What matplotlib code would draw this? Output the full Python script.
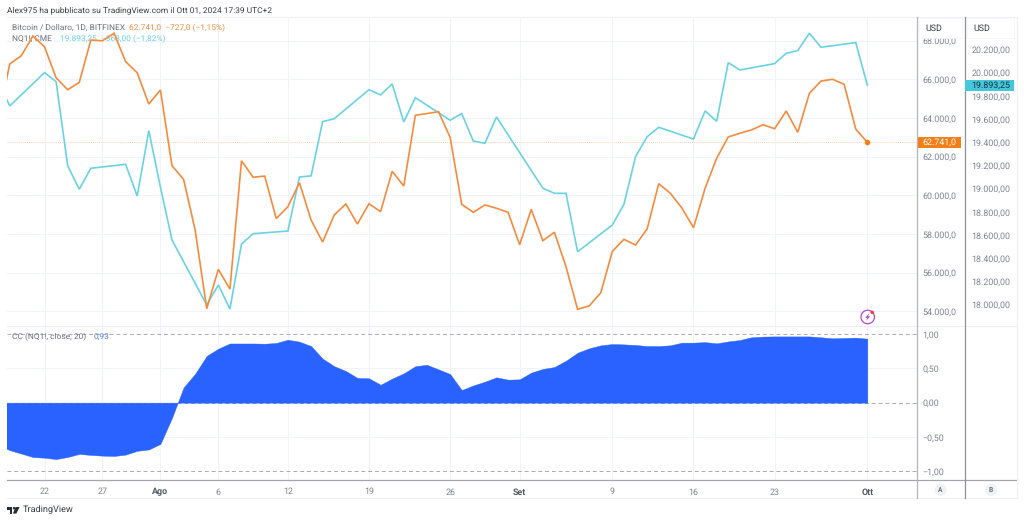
import matplotlib
matplotlib.use("Agg")
import matplotlib.pyplot as plt
import matplotlib.dates as mdates
import pandas as pd
from matplotlib.lines import Line2D
from matplotlib.patches import Ellipse, Polygon, Rectangle

plt.rcParams['font.family'] = ['Roboto', 'DejaVu Sans']
plt.rcParams['text.hinting'] = 'no_hinting'

W, H = 1024, 522

# Bitcoin daily close, 18 Jul - 1 Oct
btc_close = [
    63900, 66790, 67220, 68240, 67680, 66080, 65460, 65840, 68030, 67990, 68380, 66910, 66340, 64720,
    65450, 61535, 60830, 58210, 54145, 56180, 55160, 61790, 60935, 61000, 58800, 59415, 60655, 58730,
    57590, 58990, 59555, 58520, 59570, 59160, 61245, 60485, 64140, 64230, 64325, 63000, 59540, 59125,
    59505, 59335, 59125,
    57450, 59280, 57660, 58095, 56315, 54115, 54285, 54970, 57110, 57730, 57435, 58265, 60605, 60110,
    59350, 58330, 60365, 61920, 63020, 63210, 63380, 63655, 63445, 64360, 63260, 65275, 65910, 66000,
    65740, 63430,
    62741,
]
btc_dates = pd.date_range("2024-07-18", "2024-10-01")

# NQ1! only trades on weekdays
nq_dates = pd.to_datetime([
    "2024-07-18", "2024-07-19", "2024-07-22", "2024-07-23", "2024-07-24", "2024-07-25", "2024-07-26",
    "2024-07-29", "2024-07-30", "2024-07-31", "2024-08-01", "2024-08-02", "2024-08-05", "2024-08-06",
    "2024-08-07", "2024-08-08", "2024-08-09", "2024-08-12", "2024-08-13", "2024-08-14", "2024-08-15",
    "2024-08-16", "2024-08-19", "2024-08-20", "2024-08-21", "2024-08-22", "2024-08-23", "2024-08-26",
    "2024-08-27", "2024-08-28", "2024-08-29", "2024-08-30", "2024-09-03", "2024-09-04", "2024-09-05",
    "2024-09-06", "2024-09-09", "2024-09-10", "2024-09-11", "2024-09-12", "2024-09-13", "2024-09-16",
    "2024-09-17", "2024-09-18", "2024-09-19", "2024-09-20", "2024-09-23", "2024-09-24", "2024-09-25",
    "2024-09-26", "2024-09-27", "2024-09-30", "2024-10-01",
])
nq_close = [
    19928, 19713, 20000, 19922, 19198, 18995, 19176,
    19210, 18937, 19500, 19015, 18558, 17998, 18170,
    17963, 18523, 18612, 18635, 19101, 19110, 19578,
    19603, 19853, 19808, 19903, 19575, 19784, 19590,
    19647, 19411, 19391, 19618, 19004, 18960, 18960,
    18457, 18687, 18866, 19276, 19448, 19529, 19428,
    19670, 19581, 20086, 20023, 20078, 20167, 20190,
    20340, 20219, 20259, 19893.25,
]

# correlation coefficient, same dates as btc
cc_values = [
    -0.62, -0.69, -0.74, -0.79, -0.80, -0.82, -0.79, -0.745, -0.76, -0.77, -0.775, -0.755, -0.70, -0.68,
    -0.60, -0.22, 0.22, 0.42, 0.68, 0.785, 0.86, 0.86, 0.86, 0.857, 0.867, 0.915, 0.886, 0.823,
    0.64, 0.53, 0.46, 0.36, 0.354, 0.26, 0.35, 0.426, 0.53, 0.55, 0.484, 0.416, 0.184, 0.25,
    0.305, 0.368, 0.334,
    0.339, 0.436, 0.49, 0.518, 0.61, 0.726, 0.79, 0.833, 0.852, 0.847, 0.838, 0.823, 0.823, 0.833,
    0.872, 0.872, 0.88, 0.862, 0.89, 0.91, 0.95, 0.96, 0.963, 0.963, 0.963, 0.963, 0.95, 0.935,
    0.94, 0.945,
    0.93,
]

btc_ticks = [54000, 56000, 58000, 60000, 62000, 64000, 66000, 68000]
btc_labels = ["54.000,0", "56.000,0", "58.000,0", "60.000,0", "62.000,0", "64.000,0", "66.000,0", "68.000,0"]
nq_ticks = [18000, 18200, 18400, 18600, 18800, 19000, 19200, 19400, 19600, 19800, 20000, 20200]
nq_labels = ["18.000,00", "18.200,00", "18.400,00", "18.600,00", "18.800,00", "19.000,00",
             "19.200,00", "19.400,00", "19.600,00", "19.800,00", "20.000,00", "20.200,00"]
cc_ticks = [-1, -0.5, 0, 0.5, 1]
cc_labels = ["\u22121,00", "\u22120,50", "0,00", "0,50", "1,00"]
date_ticks = pd.to_datetime(["2024-07-22", "2024-07-27", "2024-08-01", "2024-08-06", "2024-08-12", "2024-08-19",
                             "2024-08-26", "2024-09-01", "2024-09-09", "2024-09-16", "2024-09-23", "2024-10-01"])
date_labels = ["22", "27", "Ago", "6", "12", "19", "26", "Set", "9", "16", "23", "Ott"]
bold_dates = ["Ago", "Set", "Ott"]

ORANGE = "#F78B3D"
ORANGE_TAG = "#F57F17"
CYAN = "#6AD3E3"
CYAN_TAG = "#45C6DA"
BLUE = "#2962FF"
GRID = "#F0F3FA"
LABEL = "#808390"
FS = 6.4
FS_LEGEND = 6.0


def fx(x):
    return x / W


def fy(y):
    return 1 - y / H


def box(left, top, right, bottom):
    return [fx(left), fy(bottom), fx(right) - fx(left), fy(top) - fy(bottom)]


fig = plt.figure(figsize=(W / 100, H / 100), dpi=100, facecolor="white")

# grid sits in its own axes so it stays under both price lines
ax_grid = fig.add_axes(box(7, 17.3, 916.7, 325.7))
ax_nq = fig.add_axes(box(7, 17.3, 916.7, 325.7))
ax_btc = ax_nq.twinx()
ax_cc = fig.add_axes(box(7, 325.7, 916.7, 480.3))
ax_grid.set_zorder(0)
ax_nq.set_zorder(1)
ax_btc.set_zorder(2)
ax_nq.patch.set_visible(False)
ax_btc.patch.set_visible(False)

xlim = (mdates.date2num(pd.Timestamp("2024-07-22")) - 3.236, mdates.date2num(pd.Timestamp("2024-10-01")) + 4.26)

# main pane
ax_btc.plot(btc_dates, btc_close, color=ORANGE, lw=1.2, zorder=3, solid_joinstyle="miter")
ax_btc.plot(btc_dates[-1], btc_close[-1], "o", color=ORANGE_TAG, ms=3, zorder=4)
ax_grid.axhline(btc_close[-1], color=ORANGE, lw=0.7, ls=(0, (1, 1)), alpha=0.4, zorder=1)
ax_nq.plot(nq_dates, nq_close, color=CYAN, lw=1.2, zorder=3, solid_joinstyle="miter")

ax_grid.set_ylim(53266, 69204)
ax_btc.set_ylim(53266, 69204)
ax_nq.set_ylim(17819, 20477)

ax_btc.set_yticks(btc_ticks, btc_labels)
ax_nq.set_yticks(nq_ticks, nq_labels)
ax_nq.yaxis.tick_right()
ax_btc.yaxis.tick_right()
ax_btc.tick_params(axis="y", length=0, pad=4.3, labelsize=FS, labelcolor=LABEL)
ax_nq.tick_params(axis="y", length=0, pad=39.3, labelsize=FS, labelcolor=LABEL)
ax_grid.set_yticks(btc_ticks)
ax_grid.tick_params(axis="y", length=0, labelleft=False)
ax_grid.grid(axis="y", color=GRID, lw=0.8, zorder=0)

# lower pane
ax_cc.fill_between(btc_dates, 0, cc_values, color=BLUE, lw=0.3, zorder=3)
ax_cc.set_ylim(-1.1285, 1.1185)
ax_cc.set_yticks(cc_ticks, cc_labels)
ax_cc.yaxis.tick_right()
ax_cc.tick_params(axis="y", length=0, pad=4.3, labelsize=FS, labelcolor=LABEL)
for level in [-1, 0, 1]:
    ax_cc.axhline(level, color="#A9ABB3", lw=0.7, ls=(0, (4, 3)), zorder=2)
for level in [-0.5, 0.5]:
    ax_cc.axhline(level, color=GRID, lw=0.8, zorder=1)

for ax in [ax_grid, ax_nq, ax_btc, ax_cc]:
    ax.set_xlim(*xlim)
    for side in ax.spines:
        ax.spines[side].set_visible(False)
    ax.set_xticks(date_ticks)
    ax.tick_params(axis="x", length=0, labelbottom=False)
for ax in [ax_grid, ax_cc]:
    ax.grid(axis="x", color=GRID, lw=0.8, zorder=0)

ax_cc.set_xticklabels(date_labels)
ax_cc.tick_params(axis="x", pad=5.3, labelsize=FS, labelcolor=LABEL, labelbottom=True)
for lab in ax_cc.get_xticklabels():
    if lab.get_text() in bold_dates:
        lab.set_fontweight("bold")
        lab.set_color("#555861")

# header and legends, under the lines
fig.text(fx(7), fy(10.3), "Alex975 ha pubblicato su TradingView.com il Ott 01, 2024 17:39 UTC+2",
         fontsize=FS_LEGEND, color="#3A3D45", va="center")
ax_nq.text(fx(12), fy(28), "Bitcoin / Dollaro, 1D, BITFINEX", transform=fig.transFigure,
           fontsize=FS_LEGEND, color="#6E7079", va="center", zorder=0.5)
ax_nq.text(fx(129), fy(28), "62.741,0  \u2212727,0 (\u22121,15%)", transform=fig.transFigure,
           fontsize=FS_LEGEND, color=ORANGE, va="center", zorder=0.5)
ax_nq.text(fx(12), fy(39), "NQ1!, CME", transform=fig.transFigure,
           fontsize=FS_LEGEND, color="#6E7079", va="center", zorder=0.5)
ax_nq.text(fx(59.5), fy(39), "19.893,25  \u2212368,00 (\u22121,82%)", transform=fig.transFigure,
           fontsize=FS_LEGEND, color=CYAN, va="center", zorder=0.5)
ax_cc.text(fx(12), fy(336.5), "CC (NQ1!, close, 20)", transform=fig.transFigure,
           fontsize=FS_LEGEND, color="#6E7079", va="center", zorder=5)
ax_cc.text(fx(93.5), fy(336.5), "0,93", transform=fig.transFigure,
           fontsize=FS_LEGEND, color="#5B83F5", va="center", zorder=5)


def hline(y, x0, x1, color, lw=0.8):
    fig.add_artist(Line2D([fx(x0), fx(x1)], [fy(y), fy(y)], color=color, lw=lw, zorder=6))


def vline(x, y0, y1, color, lw=0.8):
    fig.add_artist(Line2D([fx(x), fx(x)], [fy(y0), fy(y1)], color=color, lw=lw, zorder=6))


# frame
hline(17.3, 7, 1017, "#F0F1F4")
hline(325.7, 7, 1017, "#EDEEF2")
hline(480.3, 7, 1017, "#A5A7AD", 0.9)
hline(498, 7, 1017, "#F0F1F4")
vline(1017, 17.3, 498, "#F0F1F4")
vline(916.7, 17.3, 498, "#B4B5B9", 0.9)
vline(964.7, 17.3, 498, "#8E9096", 0.9)

# USD boxes hide the label running under them
for left, right, cx in [(919, 962, 934), (967, 1014, 982)]:
    fig.add_artist(Rectangle((fx(left), fy(37.5)), fx(right - left), 20 / H, transform=fig.transFigure,
                             facecolor="white", edgecolor="#F3F4F6", lw=0.5, zorder=7))
    fig.text(fx(cx), fy(28.8), "USD", fontsize=FS, color="#3A3D45", ha="center", va="center", zorder=8)

# last value tags
fig.add_artist(Rectangle((fx(917.5), fy(148.3)), fx(43.5), 11.3 / H, transform=fig.transFigure,
                         facecolor=ORANGE_TAG, lw=0, zorder=7))
fig.text(fx(922.7), fy(142.6), "62.741,0", fontsize=FS, color="white", va="center", zorder=8)
fig.add_artist(Rectangle((fx(965.3), fy(91.3)), fx(48.7), 11.3 / H, transform=fig.transFigure,
                         facecolor=CYAN_TAG, lw=0, zorder=7))
fig.text(fx(971.3), fy(85.6), "19.893,25", fontsize=FS, color="#12343B", va="center", zorder=8)

# A / B badges
for cx, letter in [(940.7, "A"), (991, "B")]:
    fig.add_artist(Ellipse((fx(cx), fy(490)), 12 / W, 12 / H, transform=fig.transFigure,
                           facecolor="#F0F1F5", lw=0, zorder=7))
    fig.text(fx(cx), fy(490), letter, fontsize=4.8, fontweight="bold", color="#6E7079",
             ha="center", va="center", zorder=8)

# purple bolt icon
fig.add_artist(Ellipse((fx(867.7), fy(317)), 13.5 / W, 13.5 / H, transform=fig.transFigure,
                       facecolor="white", edgecolor="#B14AC9", lw=0.9, zorder=7))
bolt = [(869.5, 313), (865.2, 317.8), (867.4, 317.8), (866, 321), (870.3, 316.2), (868.1, 316.2)]
fig.add_artist(Polygon([(fx(a), fy(b)) for a, b in bolt], closed=True, transform=fig.transFigure,
                       facecolor="#B14AC9", lw=0, zorder=8))
fig.add_artist(Ellipse((fx(872.2), fy(312.3)), 3.4 / W, 3.4 / H, transform=fig.transFigure,
                       facecolor="#F23645", lw=0, zorder=9))

# TradingView logo
logo = "#2A2D35"
for pts in [
    [(7, 507), (12.3, 507), (12.3, 513.6), (9.6, 513.6), (9.6, 509.6), (7, 509.6)],
    [(15.6, 507), (19.6, 507), (16.4, 513.6), (12.9, 513.6)],
]:
    fig.add_artist(Polygon([(fx(a), fy(b)) for a, b in pts], closed=True, transform=fig.transFigure,
                           facecolor=logo, lw=0, zorder=7))
fig.add_artist(Ellipse((fx(14), fy(508.2)), 2.5 / W, 2.5 / H, transform=fig.transFigure,
                       facecolor=logo, lw=0, zorder=7))
fig.text(fx(22.5), fy(510), "TradingView", fontsize=6.6, color="#3A3D45", va="center")

fig.savefig("out.png", dpi=100)
